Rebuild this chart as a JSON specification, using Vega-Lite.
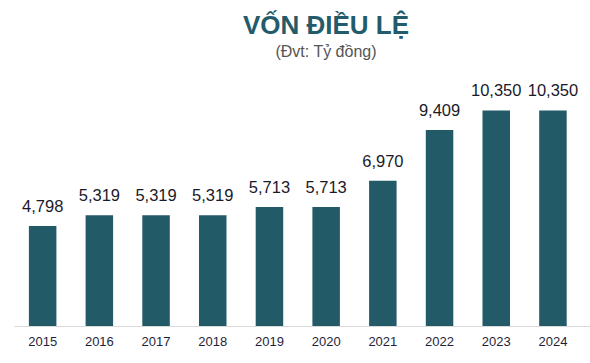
{
  "$schema": "https://vega.github.io/schema/vega-lite/v6.json",
  "autosize": {"type": "none"},
  "width": 576,
  "height": 250,
  "padding": {"left": 14, "top": 76, "right": 0, "bottom": 37},
  "background": "white",
  "config": {"view": {"stroke": null}, "font": "Liberation Sans"},
  "title": {
    "text": "VỐN ĐIỀU LỆ",
    "subtitle": "(Đvt: Tỷ đồng)",
    "anchor": "middle",
    "dx": 24,
    "offset": 16,
    "font": "Liberation Sans",
    "fontSize": 26,
    "fontWeight": "bold",
    "color": "#235B6A",
    "subtitleFont": "Liberation Sans",
    "subtitleFontSize": 16,
    "subtitleColor": "#555555",
    "subtitlePadding": 5
  },
  "data": {
    "values": [
      {"year": "2015", "value": 4798},
      {"year": "2016", "value": 5319},
      {"year": "2017", "value": 5319},
      {"year": "2018", "value": 5319},
      {"year": "2019", "value": 5713},
      {"year": "2020", "value": 5713},
      {"year": "2021", "value": 6970},
      {"year": "2022", "value": 9409},
      {"year": "2023", "value": 10350},
      {"year": "2024", "value": 10350}
    ]
  },
  "encoding": {
    "x": {
      "field": "year",
      "type": "ordinal",
      "scale": {"paddingInner": 0.515, "paddingOuter": 0.337, "align": 0.39},
      "axis": {
        "title": null,
        "labelAngle": 0,
        "ticks": false,
        "domainColor": "#d9d9d9",
        "domainWidth": 1,
        "labelFontSize": 13,
        "labelColor": "#1f1f3a",
        "labelPadding": 9,
        "labelFont": "Liberation Sans"
      }
    },
    "y": {
      "field": "value",
      "type": "quantitative",
      "scale": {"domain": [0, 12000]},
      "axis": null
    }
  },
  "layer": [
    {"mark": {"type": "bar", "color": "#235A68"}},
    {
      "mark": {"type": "text", "dy": -11, "baseline": "bottom", "fontSize": 16.5, "color": "#1a1a2a", "font": "Liberation Sans"},
      "encoding": {"text": {"field": "value", "type": "quantitative", "format": ",d"}}
    }
  ]
}
